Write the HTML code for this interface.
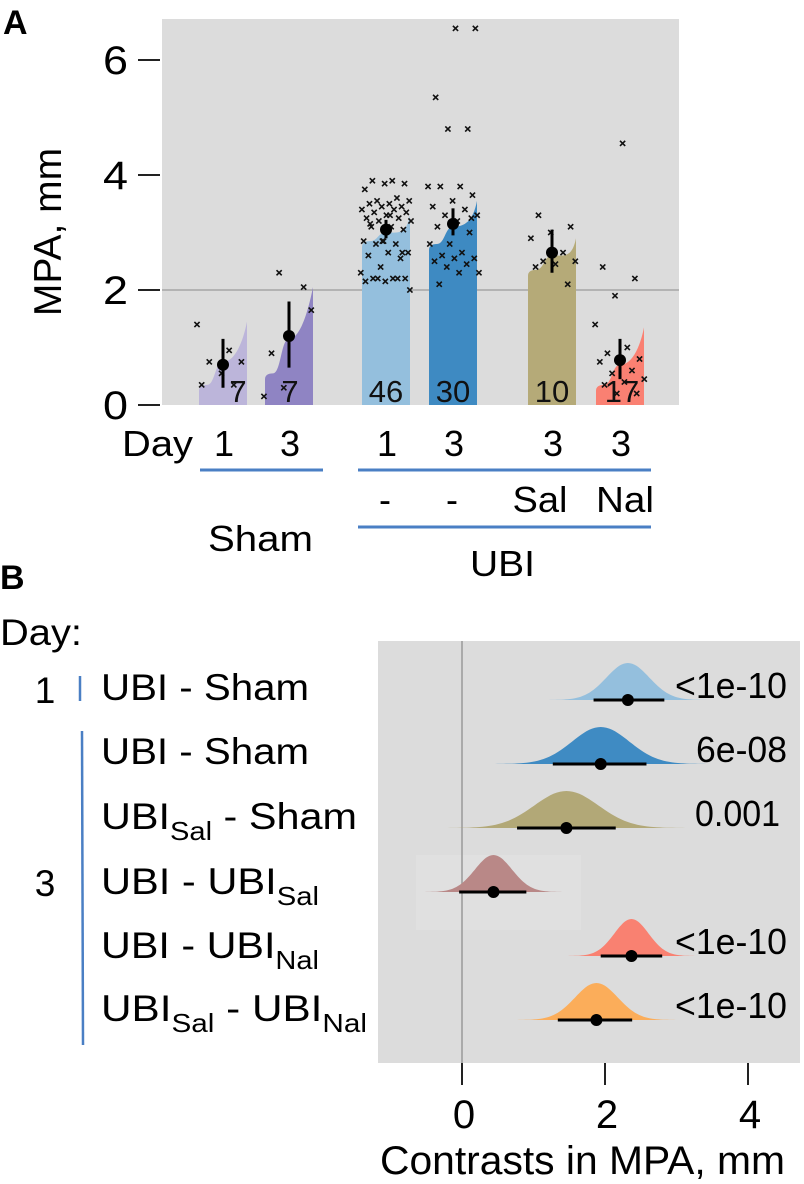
<!DOCTYPE html>
<html><head><meta charset="utf-8"><style>
html,body{margin:0;padding:0;background:#fff}
svg{display:block;font-family:"Liberation Sans",Arial,sans-serif}
</style></head><body>
<svg id="fig" width="804" height="1184" viewBox="0 0 804 1184" xmlns="http://www.w3.org/2000/svg">
<text x="3" y="34" font-size="34" font-weight="bold">A</text>
<rect x="162" y="19" width="517" height="386" fill="#dcdcdc"/>
<g id="pa"></g>
<text transform="translate(61,232) rotate(-90)" text-anchor="middle" font-size="39">MPA, mm</text>
<g id="pa-axis"></g>
<text x="122" y="456" font-size="36" textLength="71" lengthAdjust="spacingAndGlyphs">Day</text>
<g id="pa-x"></g>
<line x1="200" y1="470" x2="323" y2="470" stroke="#4a7fc4" stroke-width="3"/>
<line x1="358" y1="470" x2="651" y2="470" stroke="#4a7fc4" stroke-width="3"/>
<line x1="358" y1="527" x2="651" y2="527" stroke="#4a7fc4" stroke-width="3"/>
<text x="208" y="551" font-size="36" textLength="105" lengthAdjust="spacingAndGlyphs">Sham</text>
<text x="470" y="576" font-size="36" textLength="65" lengthAdjust="spacingAndGlyphs">UBI</text>

<text x="0" y="589" font-size="34" font-weight="bold">B</text>
<text x="0" y="645" font-size="37" textLength="82" lengthAdjust="spacingAndGlyphs">Day:</text>
<text x="45" y="703" font-size="37" text-anchor="middle">1</text>
<line x1="80" y1="676" x2="80" y2="701" stroke="#4a7fc4" stroke-width="2.5"/>
<text x="45" y="896" font-size="37" text-anchor="middle">3</text>
<line x1="82" y1="731" x2="83" y2="1045" stroke="#4a7fc4" stroke-width="2.5"/>
<g font-size="37">
<text x="101" y="700" textLength="208" lengthAdjust="spacingAndGlyphs">UBI - Sham</text>
<text x="101" y="764" textLength="208" lengthAdjust="spacingAndGlyphs">UBI - Sham</text>
<text x="101" y="829" textLength="256" lengthAdjust="spacingAndGlyphs">UBI<tspan font-size="26" dy="11">Sal</tspan><tspan dy="-11"> - Sham</tspan></text>
<text x="101" y="894" textLength="218" lengthAdjust="spacingAndGlyphs">UBI - UBI<tspan font-size="26" dy="11">Sal</tspan></text>
<text x="101" y="958" textLength="218" lengthAdjust="spacingAndGlyphs">UBI - UBI<tspan font-size="26" dy="11">Nal</tspan></text>
<text x="101" y="1021" textLength="266" lengthAdjust="spacingAndGlyphs">UBI<tspan font-size="26" dy="11">Sal</tspan><tspan dy="-11"> - UBI</tspan><tspan font-size="26" dy="11">Nal</tspan></text>
</g>
<rect x="378" y="641" width="422" height="422" fill="#dcdcdc"/>
<rect x="416" y="855" width="165" height="75" fill="#e0e0e0"/>
<g id="pb"></g>
<text x="380" y="1174" font-size="40" textLength="405" lengthAdjust="spacingAndGlyphs">Contrasts in MPA, mm</text>
</svg>
<script>
// ---- Panel A data ----
const groupCounts = [7, 7, 46, 30, 10, 17];
const groupDays = ["1", "3", "1", "3", "3", "3"];
const groupTreat = ["", "", "-", "-", "Sal", "Nal"];
const groupMeans = [0.7, 1.2, 3.05, 3.15, 2.65, 0.78];
const groupCiLow = [0.3, 0.65, 2.9, 2.95, 2.3, 0.45];
const groupCiHigh = [1.15, 1.8, 3.22, 3.42, 3.05, 1.15];
const violinLow = [0.35, 0.55, 2.85, 2.8, 2.35, 0.35];
const violinMid = [0.75, 1.15, 3.0, 3.1, 2.6, 0.7];
const violinHigh = [1.45, 2.05, 3.3, 3.55, 2.9, 1.35];
const pts0 = [1.4, 0.95, 0.75, 0.75, 0.55, 0.35, 0.35];
const pts1 = [2.3, 1.65, 1.2, 0.9, 2.05, 0.3, 0.15];
const pts2 = [3.9,3.9,3.85,3.85,3.75,3.6,3.55,3.55,3.5,3.5,3.45,3.45,3.4,3.4,3.35,3.35,3.3,3.25,3.25,3.2,3.2,3.1,3.1,3.05,2.85,2.85,2.8,2.8,2.65,2.65,2.6,2.55,2.4,2.3,2.2,2.2,2.2,2.15,2.15,2.2,2.2,2.0,3.3,3.15,2.65,2.85];
const pts3 = [6.55,6.55,5.35,4.8,4.8,3.8,3.8,3.8,3.65,3.55,3.45,3.4,3.3,3.3,3.2,3.1,3.0,2.8,2.8,2.65,2.6,2.55,2.55,2.5,2.45,2.4,2.3,2.3,2.1,3.25];
const pts4 = [3.3,3.1,3.0,2.9,2.65,2.5,2.5,2.45,2.4,2.1];
const pts5 = [4.55,2.4,2.2,1.9,1.4,1.0,0.9,0.8,0.75,0.75,0.6,0.55,0.45,0.4,0.35,0.2,0.2];
const yTicks = [0, 2, 4, 6];
// ---- Panel B data ----
const contrastMeans = [2.32, 1.94, 1.46, 0.44, 2.37, 1.88];
const contrastCiLow = [1.84, 1.27, 0.77, -0.04, 1.94, 1.34];
const contrastCiHigh = [2.83, 2.58, 2.15, 0.9, 2.8, 2.38];
const contrastSd = [0.3, 0.4, 0.45, 0.26, 0.24, 0.3];
const contrastP = ["<1e-10", "6e-08", "0.001", "", "<1e-10", "<1e-10"];
const xTicksB = [0, 2, 4];

const groupPts = [pts0, pts1, pts2, pts3, pts4, pts5];
const groupColors = ["#bcb5da", "#8f84c3", "#94bfdd", "#3e8ac2", "#b5aa78", "#fa8072"];
const contrastColors = ["#94bfdd", "#3f8bc3", "#b2a877", "#b98887", "#f98171", "#fbad5a"];
const NS = "http://www.w3.org/2000/svg";
function mk(tag, attrs, parent) { const e = document.createElementNS(NS, tag); for (const k in attrs) e.setAttribute(k, attrs[k]); parent.appendChild(e); return e; }

const yA = v => 405 - v * 57.5;
const barLeft = i => [199, 265, 362, 429, 528, 596][i];
const barW = 48;
const xB = v => 462 + v * 71.5;
const rowY = i => 700 + i * 64;

const pa = document.getElementById('pa');
const hl = mk('line', {x1:162, x2:679, y1:yA(2), y2:yA(2), stroke:'#a5a5a5', 'stroke-width':1.5}, pa);



const countDx = [15, 1, 0, 0, 0, 2];
groupCounts.forEach((n, i) => {
  const L = barLeft(i), R = L + barW, M = L + barW / 2;
  const d = `M${L},${yA(0)} L${L},${yA(violinLow[i]) + 6} Q${L},${yA(violinLow[i])} ${L + 8},${yA(violinLow[i])} `
    + `C${L + 16},${yA(violinLow[i])} ${M - 8},${yA(violinMid[i])} ${M},${yA(violinMid[i])} `
    + `C${M + 12},${yA(violinMid[i])} ${R - 4},${yA(violinHigh[i]) + 20} ${R},${yA(violinHigh[i])} L${R},${yA(0)} Z`;
  const v = mk('path', {d: d, fill: groupColors[i]}, pa);
  
  
  const pts = groupPts[i];
  pts.forEach((p, j) => {
    const off = (((j * 0.6180339 + i * 0.31) % 1) - 0.5) * (barW + 4);
    const x = M + off, y = yA(p), s = 2.6;
    const g = mk('path', {d:`M${x - s},${y - s}L${x + s},${y + s}M${x + s},${y - s}L${x - s},${y + s}`, stroke:'#111', 'stroke-width':1.6}, pa);
    
    
  });
  const ci = mk('line', {x1:M, x2:M, y1:yA(groupCiLow[i]), y2:yA(groupCiHigh[i]), stroke:'#000', 'stroke-width':3}, pa);
  
  
  const mc = mk('circle', {cx:M, cy:yA(groupMeans[i]), r:6, fill:'#000'}, pa);
  
  
  const ct = mk('text', {x:M + countDx[i], y:402, 'font-size':31, 'text-anchor':'middle', fill:'#111'}, pa);
  ct.textContent = String(n);
  
  
});

const pax = document.getElementById('pa-axis');
yTicks.forEach(t => {
  const l = mk('line', {x1:138, x2:160, y1:yA(t), y2:yA(t), stroke:'#222', 'stroke-width':2}, pax);
  
  
  const tx = mk('text', {x:103, y:yA(t) + 14, 'font-size':40, textLength:25, lengthAdjust:'spacingAndGlyphs'}, pax);
  tx.textContent = String(t);
  
  
});

const treatWidths = {"-": 12, "Sal": 55, "Nal": 58};
const treatDx = {"-": -1, "Sal": -12, "Nal": 5};
const pxg = document.getElementById('pa-x');
groupDays.forEach((d, i) => {
  const M = barLeft(i) + barW / 2;
  const t = mk('text', {x:M + 1, y:456, 'font-size':36, 'text-anchor':'middle'}, pxg);
  t.textContent = d;
  
  
  if (groupTreat[i]) {
    const cx = M + treatDx[groupTreat[i]];
    const w = treatWidths[groupTreat[i]];
    const t2 = mk('text', {x:cx - w / 2, y:512, 'font-size':36, textLength:w, lengthAdjust:'spacingAndGlyphs'}, pxg);
    t2.textContent = groupTreat[i];
    
    
  }
});

// ---- Panel B ----
const pb = document.getElementById('pb');
const zl = mk('line', {x1:xB(0), x2:xB(0), y1:641, y2:1063, stroke:'#999', 'stroke-width':1.5}, pb);


const pWidths = {"<1e-10": 112, "6e-08": 91, "0.001": 85};
contrastMeans.forEach((m, i) => {
  const y0 = rowY(i), sd = contrastSd[i];
  let d = `M${xB(m - 4 * sd)},${y0}`;
  for (let k = 0; k <= 80; k++) {
    const v = m - 4 * sd + (8 * sd) * k / 80;
    const h = 37 * Math.exp(-0.5 * Math.pow((v - m) / sd, 2));
    d += ` L${xB(v).toFixed(1)},${(y0 - h).toFixed(1)}`;
  }
  d += ' Z';
  const p = mk('path', {d: d, fill: contrastColors[i]}, pb);
  
  
  const ci = mk('line', {x1:xB(contrastCiLow[i]), x2:xB(contrastCiHigh[i]), y1:y0, y2:y0, stroke:'#000', 'stroke-width':3}, pb);
  
  
  const c = mk('circle', {cx:xB(m), cy:y0, r:6, fill:'#000'}, pb);
  
  
  if (contrastP[i]) {
    const w = pWidths[contrastP[i]];
    const right = contrastP[i] === '0.001' ? 780 : 787;
    const t = mk('text', {x:right - w, y:y0 - 2, 'font-size':36, textLength:w, lengthAdjust:'spacingAndGlyphs'}, pb);
    t.textContent = contrastP[i];
    
    
  }
});
xTicksB.forEach(t => {
  const l = mk('line', {x1:xB(t), x2:xB(t), y1:1063, y2:1085, stroke:'#222', 'stroke-width':2}, pb);
  
  
  const tx = mk('text', {x:xB(t) + 2, y:1128, 'font-size':40, 'text-anchor':'middle'}, pb);
  tx.textContent = String(t);
  
  
});
</script>
</body></html>
